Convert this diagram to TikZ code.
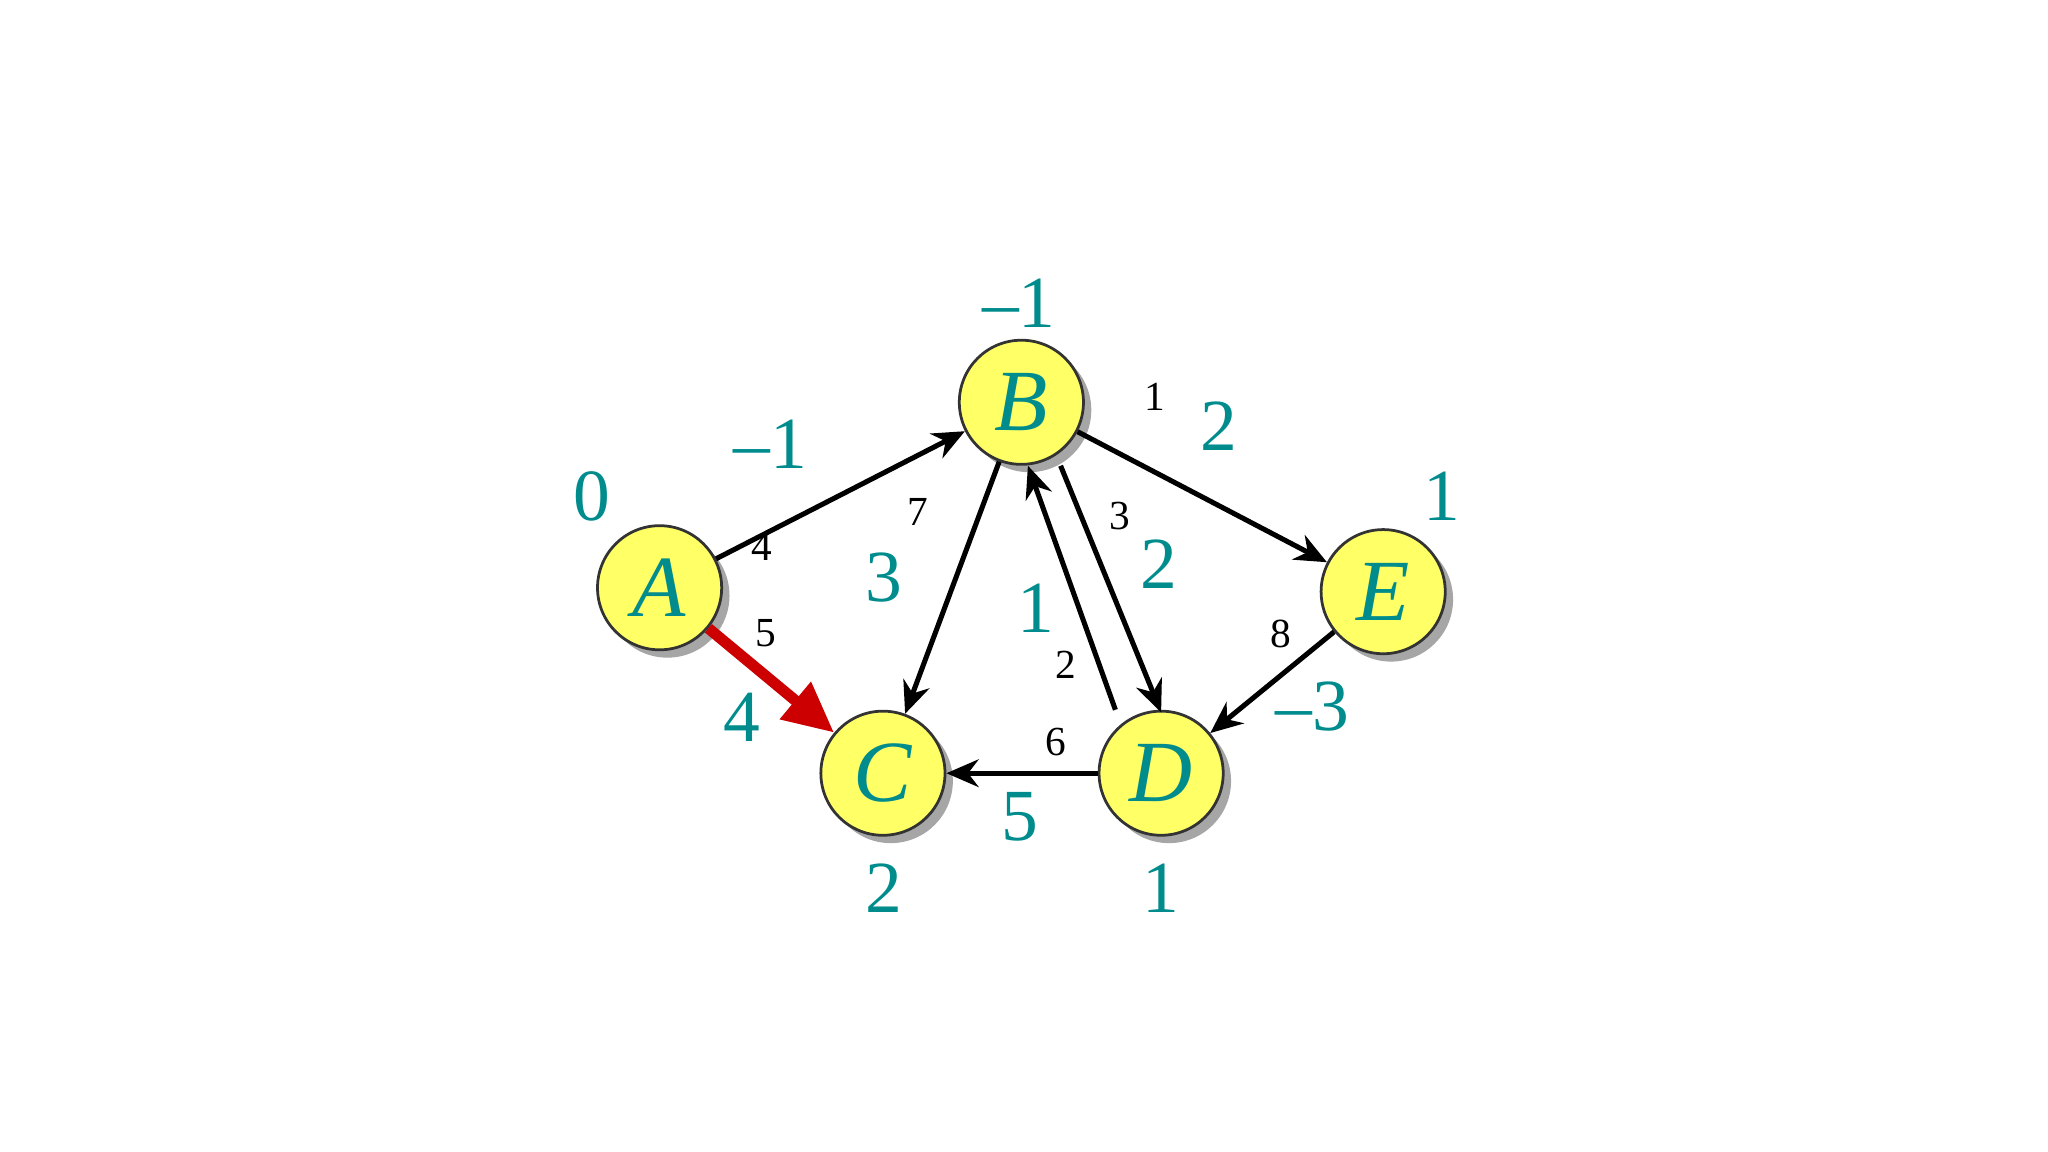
\documentclass[tikz,border=0pt]{standalone}
\usepackage{fontspec}
\setmainfont{Liberation Serif}
\usetikzlibrary{arrows.meta,shadows}
\definecolor{teal1}{RGB}{0,140,140}
\definecolor{nodey}{RGB}{255,255,102}
\tikzset{
  vert/.style={circle,draw=black!80,semithick,fill=nodey,minimum size=0.95cm,inner sep=0pt,
    font=\fontsize{19}{19}\selectfont\itshape,text=teal1,
    drop shadow={shadow xshift=0.06cm,shadow yshift=-0.06cm,fill=gray!70,opacity=1}},
  big/.style={text=teal1,font=\fontsize{16}{16}\selectfont},
  sm/.style={text=black,font=\fontsize{9}{9}\selectfont},
  edge/.style={-{Stealth[length=7pt,width=6pt]},line width=1.1pt},
}
\begin{document}
\begin{tikzpicture}[x=0.01cm,y=-0.01cm]
\useasboundingbox (0,0) rectangle (1568,882);
\node[vert] (A) at (505,450) {A};
\node[vert] (B) at (782,308) {B};
\node[vert] (C) at (676,592) {C};
\node[vert] (D) at (889,592) {D};
\node[vert] (E) at (1059,453) {E};
\draw[edge] (A) -- (B);
\draw[-{Triangle[length=11pt,width=10pt]},line width=2.4pt,red!80!black] (A) -- (C);
\draw[edge] (B) -- (C);
\draw[edge] ([xshift=0.3cm]B.south) -- ([yshift=-0.02cm]D.north);
\draw[edge] ([xshift=-0.35cm]D.north) -- ([xshift=0.05cm]B.south);
\draw[edge] (B) -- (E);
\draw[edge] (E) -- (D);
\draw[edge] (D) -- (C);
\node[big] (l0) at (453,380) {0};
\node[big] (l1) at (780,232) {\textendash1};
\node[big] (l2) at (1104,380) {1};
\node[big] (l3) at (677,680) {2};
\node[big] (l4) at (889,680) {1};
\node[big] (w1) at (590,340) {\textendash1};
\node[big] (w2) at (677,442) {3};
\node[big] (w3) at (793,466) {1};
\node[big] (w4) at (887,432) {2};
\node[big] (w5) at (933,326) {2};
\node[big] (w6) at (1005,541) {\textendash3};
\node[big] (w7) at (568,549) {4};
\node[big] (w8) at (781,625) {5};
\node[sm] (s1) at (583,419) {4};
\node[sm] (s2) at (586,485) {5};
\node[sm] (s3) at (703,392) {7};
\node[sm] (s4) at (884,304) {1};
\node[sm] (s5) at (857,395) {3};
\node[sm] (s6) at (816,509) {2};
\node[sm] (s7) at (981,485) {8};
\node[sm] (s8) at (808,568) {6};
\end{tikzpicture}
\end{document}
